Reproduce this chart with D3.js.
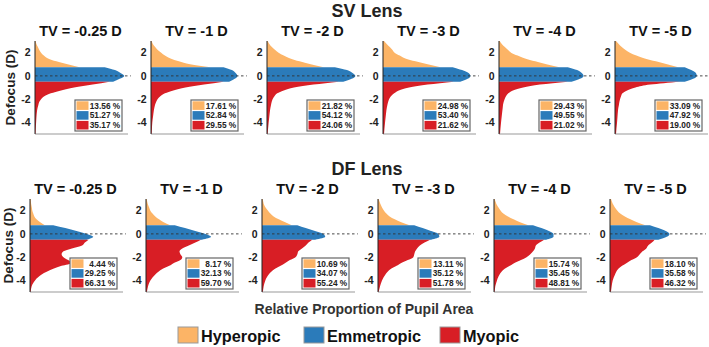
<!DOCTYPE html>
<html>
<head>
<meta charset="utf-8">
<script src="https://cdn.jsdelivr.net/npm/d3@7"></script>
<style>
body{margin:0;background:#fff;}
text{font-family:"Liberation Sans",Arial,Helvetica,sans-serif;font-weight:bold;}
</style>
</head>
<body>
<div id="chart"></div>
<script>
var tvLabels = ["TV = -0.25 D", "TV = -1 D", "TV = -2 D", "TV = -3 D", "TV = -4 D", "TV = -5 D"];
var classNames = ["Hyperopic", "Emmetropic", "Myopic"];
var yTicks = [2, 0, -2, -4];

// defocus grids (D) for each zone
var defHyper = [3, 2.75, 2.5, 2.25, 2, 1.75, 1.5, 1.25, 1, 0.75];
var defEmme = [0.75, 0.5, 0.25, 0, -0.25, -0.5];
var defMyo = [-0.5, -0.75, -1, -1.25, -1.5, -1.75, -2, -2.25, -2.5, -2.75, -3, -3.5, -4, -4.5, -5];

// relative proportion (fraction of axis width)
var svHyper = [
  [0.007, 0.015, 0.03, 0.045, 0.065, 0.095, 0.14, 0.23, 0.35, 0.48],
  [0.007, 0.02, 0.043, 0.07, 0.11, 0.15, 0.21, 0.30, 0.42, 0.64],
  [0.007, 0.025, 0.05, 0.085, 0.125, 0.18, 0.25, 0.35, 0.47, 0.61],
  [0.011, 0.04, 0.07, 0.10, 0.125, 0.18, 0.24, 0.35, 0.48, 0.62],
  [0.007, 0.03, 0.06, 0.095, 0.13, 0.20, 0.28, 0.39, 0.51, 0.65],
  [0.011, 0.04, 0.07, 0.11, 0.16, 0.23, 0.32, 0.44, 0.56, 0.68]
];
var svEmme = [
  [0.75, 0.86, 0.92, 0.96, 0.91, 0.84],
  [0.78, 0.87, 0.91, 0.93, 0.90, 0.84],
  [0.73, 0.86, 0.92, 0.95, 0.91, 0.82],
  [0.75, 0.85, 0.92, 0.94, 0.91, 0.83],
  [0.74, 0.84, 0.89, 0.91, 0.87, 0.78],
  [0.75, 0.82, 0.87, 0.88, 0.84, 0.75]
];
var svMyo = [
  [0.80, 0.62, 0.42, 0.28, 0.17, 0.10, 0.065, 0.045, 0.036, 0.028, 0.022, 0.016, 0.012, 0.008, 0.005],
  [0.78, 0.57, 0.37, 0.24, 0.15, 0.10, 0.07, 0.055, 0.043, 0.036, 0.03, 0.022, 0.014, 0.01, 0.007],
  [0.77, 0.50, 0.29, 0.18, 0.11, 0.08, 0.06, 0.05, 0.043, 0.037, 0.032, 0.025, 0.018, 0.012, 0.007],
  [0.76, 0.48, 0.28, 0.17, 0.12, 0.085, 0.065, 0.055, 0.047, 0.041, 0.036, 0.029, 0.022, 0.016, 0.011],
  [0.74, 0.44, 0.26, 0.15, 0.10, 0.075, 0.06, 0.05, 0.043, 0.04, 0.036, 0.029, 0.022, 0.016, 0.011],
  [0.70, 0.38, 0.22, 0.13, 0.08, 0.065, 0.054, 0.047, 0.042, 0.036, 0.032, 0.027, 0.022, 0.016, 0.011]
];
var dfHyper = [
  [0.007, 0.01, 0.014, 0.02, 0.025, 0.035, 0.047, 0.07, 0.11, 0.16],
  [0.007, 0.014, 0.022, 0.035, 0.047, 0.07, 0.10, 0.14, 0.19, 0.26],
  [0.007, 0.014, 0.022, 0.04, 0.065, 0.09, 0.125, 0.18, 0.25, 0.32],
  [0.007, 0.018, 0.03, 0.045, 0.065, 0.09, 0.125, 0.18, 0.25, 0.34],
  [0.007, 0.018, 0.03, 0.05, 0.072, 0.10, 0.15, 0.21, 0.28, 0.37],
  [0.011, 0.022, 0.036, 0.055, 0.08, 0.11, 0.16, 0.22, 0.29, 0.38]
];
var dfEmme = [
  [0.25, 0.38, 0.50, 0.61, 0.68, 0.61],
  [0.31, 0.42, 0.53, 0.64, 0.70, 0.60],
  [0.38, 0.47, 0.57, 0.66, 0.68, 0.57],
  [0.39, 0.48, 0.57, 0.65, 0.66, 0.57],
  [0.42, 0.51, 0.59, 0.64, 0.64, 0.56],
  [0.43, 0.52, 0.60, 0.64, 0.61, 0.52]
];
var dfMyo = [
  [0.63, 0.59, 0.56, 0.45, 0.36, 0.34, 0.36, 0.41, 0.45, 0.34, 0.25, 0.125, 0.054, 0.018, 0.007],
  [0.59, 0.53, 0.46, 0.39, 0.36, 0.37, 0.39, 0.37, 0.30, 0.25, 0.18, 0.10, 0.047, 0.022, 0.01],
  [0.54, 0.50, 0.47, 0.43, 0.39, 0.38, 0.36, 0.30, 0.25, 0.20, 0.14, 0.072, 0.036, 0.018, 0.01],
  [0.56, 0.50, 0.45, 0.42, 0.40, 0.39, 0.38, 0.32, 0.25, 0.20, 0.14, 0.08, 0.043, 0.022, 0.007],
  [0.54, 0.49, 0.45, 0.44, 0.42, 0.39, 0.35, 0.29, 0.22, 0.17, 0.115, 0.06, 0.032, 0.014, 0.007],
  [0.48, 0.45, 0.41, 0.39, 0.35, 0.32, 0.29, 0.23, 0.18, 0.13, 0.09, 0.054, 0.029, 0.018, 0.01]
];

// legend percentages [hyperopic, emmetropic, myopic]
var svPct = [[13.56, 51.27, 35.17], [17.61, 52.84, 29.55], [21.82, 54.12, 24.06], [24.98, 53.40, 21.62], [29.43, 49.55, 21.02], [33.09, 47.92, 19.00]];
var dfPct = [[4.44, 29.25, 66.31], [8.17, 32.13, 59.70], [10.69, 34.07, 55.24], [13.11, 35.12, 51.78], [15.74, 35.45, 48.81], [18.10, 35.58, 46.32]];

var colors = ["#FCB466", "#2B7BBA", "#D81E25"];

var W = 709, H = 347;
var svg = d3.select("#chart").append("svg").attr("width", W).attr("height", H);

var panelW = 93, step = 116;
var boxW = 47, boxH = 31;

function drawRow(rowTitle, titleY, x0, top, bottom, panelTitleY, hyper, emme, myo, pct, ylabX) {
  svg.append("text").attr("x", 367).attr("y", titleY).attr("text-anchor", "middle")
    .attr("font-size", 18).attr("fill", "#222").text(rowTitle);

  var yScale = d3.scaleLinear().domain([-5, 3]).range([bottom, top]);

  svg.append("text").attr("transform", "translate(" + ylabX + "," + ((top + bottom) / 2) + ") rotate(-90)")
    .attr("text-anchor", "middle").attr("dy", ".35em").attr("font-size", 13.5).attr("fill", "#222").text("Defocus (D)");

  for (var i = 0; i < 6; i++) {
    var px = x0 + i * step;
    var xScale = d3.scaleLinear().domain([0, 1]).range([px, px + panelW]);
    var g = svg.append("g");

    var area = d3.area().curve(d3.curveMonotoneY)
      .x0(xScale(0)).x1(function(d) { return xScale(d[1]); })
      .y(function(d) { return yScale(d[0]); });

    var zones = [
      d3.zip(defHyper, hyper[i]),
      d3.zip(defEmme, emme[i]),
      d3.zip(defMyo, myo[i])
    ];
    g.selectAll(".zone").data(zones).enter().append("path")
      .attr("d", area).attr("fill", function(d, k) { return colors[k]; });

    // zero line
    g.append("line").attr("x1", xScale(0)).attr("x2", xScale(1.03))
      .attr("y1", yScale(0)).attr("y2", yScale(0))
      .attr("stroke", "#333").attr("stroke-width", 0.9).attr("stroke-dasharray", "2.5,2.5");

    // axes
    g.append("line").attr("x1", xScale(0)).attr("x2", xScale(1)).attr("y1", bottom).attr("y2", bottom)
      .attr("stroke", "#999").attr("stroke-width", 1);
    g.append("line").attr("x1", xScale(0)).attr("x2", xScale(0)).attr("y1", top).attr("y2", bottom)
      .attr("stroke", "#222").attr("stroke-width", 1);

    g.selectAll(".tick").data(yTicks).enter().append("text")
      .attr("x", xScale(0) - 4.5).attr("y", yScale).attr("dy", ".36em")
      .attr("text-anchor", "end").attr("font-size", 10.5).attr("fill", "#222")
      .text(function(d) { return d; });

    svg.append("text").attr("x", xScale(0.5) - 1).attr("y", panelTitleY).attr("text-anchor", "middle")
      .attr("font-size", 14.5).attr("fill", "#111").text(tvLabels[i]);

    // legend box
    var bx = xScale(1) - 6 - boxW, by = bottom - 3 - boxH;
    g.append("rect").attr("x", bx).attr("y", by).attr("width", boxW).attr("height", boxH)
      .attr("fill", "#fff").attr("stroke", "#666").attr("stroke-width", 1.2);
    g.selectAll(".sw").data(pct[i]).enter().append("rect")
      .attr("x", bx + 1.5).attr("y", function(d, k) { return by + 1.3 + k * 9.8; })
      .attr("width", 12).attr("height", 8.6)
      .attr("fill", function(d, k) { return colors[k]; });
    g.selectAll(".pt").data(pct[i]).enter().append("text")
      .attr("x", bx + boxW - 1.8).attr("y", function(d, k) { return by + 5.6 + k * 9.8; }).attr("dy", ".35em")
      .attr("text-anchor", "end").attr("font-size", 8.3).attr("fill", "#222")
      .text(function(d) { return d.toFixed(2) + " %"; });
  }
}

drawRow("SV Lens", 17, 35, 41, 134, 36, svHyper, svEmme, svMyo, svPct, 10);
drawRow("DF Lens", 175, 30, 199, 292, 193.5, dfHyper, dfEmme, dfMyo, dfPct, 8);

svg.append("text").attr("x", 364).attr("y", 314).attr("text-anchor", "middle")
  .attr("font-size", 14).attr("fill", "#333").text("Relative Proportion of Pupil Area");

var legX = [178, 304, 440];
var leg = svg.selectAll(".leg").data(classNames).enter().append("g");
leg.append("rect").attr("x", function(d, k) { return legX[k]; }).attr("y", 327)
  .attr("width", 20).attr("height", 16)
  .attr("fill", function(d, k) { return colors[k]; }).attr("stroke", "#999").attr("stroke-width", 1);
leg.append("text").attr("x", function(d, k) { return legX[k] + 23; }).attr("y", 341.5)
  .attr("font-size", 16.3).attr("fill", "#111").text(function(d) { return d; });
</script>
</body>
</html>
